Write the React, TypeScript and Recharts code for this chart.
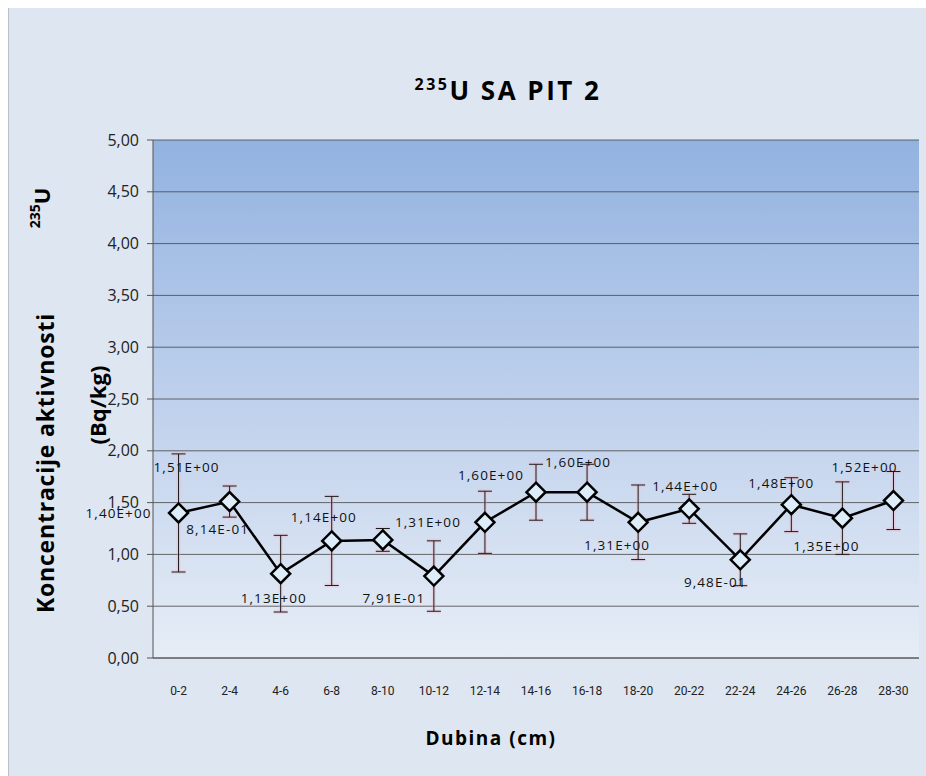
import { ComposedChart, Line, XAxis, YAxis, CartesianGrid, ErrorBar, LabelList } from 'recharts';

const CATEGORIES = ['0-2', '2-4', '4-6', '6-8', '8-10', '10-12', '12-14', '14-16', '16-18', '18-20', '20-22', '22-24', '24-26', '26-28', '28-30'];
const VALUES = [1.40, 1.51, 0.814, 1.13, 1.14, 0.791, 1.31, 1.60, 1.60, 1.31, 1.44, 0.948, 1.48, 1.35, 1.52];
const ERRORS = [0.57, 0.15, 0.37, 0.43, 0.11, 0.34, 0.30, 0.27, 0.27, 0.36, 0.14, 0.25, 0.26, 0.35, 0.28];
const Y_TICKS = [0, 0.5, 1, 1.5, 2, 2.5, 3, 3.5, 4, 4.5, 5];

const data = CATEGORIES.map((c, i) => ({ depth: c, value: VALUES[i], err: ERRORS[i] }));

// where each value label sits relative to its point (the original is a bit scattered)
const LABEL_OFFSETS = [
  [-60, 0], [-43, -35], [-63, -45], [-58, 57], [-59, -23], [-40, 22], [-57, 0], [-45, -17],
  [-9, -30], [-21, 23], [-4, -23], [-25, 22], [-10, -22], [-16, 28], [-29, -34],
];

const fmtTick = (v: number) => v.toFixed(2).replace('.', ',');
const fmtSci = (v: number) => {
  const [m, e] = v.toExponential(2).split('e');
  const n = parseInt(e, 10);
  return `${m.replace('.', ',')}E${n < 0 ? '-' : '+'}${String(Math.abs(n)).padStart(2, '0')}`;
};

const Diamond = (props: any) => {
  const { cx, cy } = props;
  if (cx == null || cy == null) return null;
  const r = 9.5;
  return (
    <polygon
      points={`${cx},${cy - r} ${cx + r},${cy} ${cx},${cy + r} ${cx - r},${cy}`}
      fill="#ddeefa"
      stroke="#000"
      strokeWidth={2.5}
    />
  );
};

const ValueLabel = (props: any) => {
  const { x, y, value, index } = props;
  const [dx, dy] = LABEL_OFFSETS[index] || [0, -20];
  return (
    <text
      x={x + dx}
      y={y + dy}
      textAnchor="middle"
      dominantBaseline="central"
      fontSize={13.5}
      letterSpacing={1.1}
      fontFamily="'Open Sans', sans-serif"
      fill="#111"
    >
      {fmtSci(value)}
    </text>
  );
};

export default function App() {
  return (
    <div
      style={{
        position: 'absolute',
        top: 8,
        left: 8,
        width: 918,
        height: 768,
        background: '#dee6f1',
        borderLeft: '1px solid #b9c0c8',
        boxSizing: 'border-box',
        overflow: 'hidden',
      }}
    >
      <svg width={0} height={0} style={{ position: 'absolute' }}>
        <defs>
          <linearGradient id="plotGrad" x1="0" y1="0" x2="0" y2="1">
            <stop offset="0%" stopColor="#92b2e0" />
            <stop offset="45%" stopColor="#bacdeb" />
            <stop offset="100%" stopColor="#e6edf6" />
          </linearGradient>
        </defs>
      </svg>
      <ComposedChart
        width={918}
        height={768}
        data={data}
        margin={{ top: 132, right: 8, bottom: 78, left: 84 }}
      >
        <CartesianGrid
          vertical={false}
          stroke="#4d4d4d"
          strokeOpacity={0.85}
          fill="url(#plotGrad)"
          fillOpacity={1}
        />
        <XAxis
          dataKey="depth"
          scale="band"
          height={40}
          tickLine={false}
          axisLine={{ stroke: '#555' }}
          tickMargin={22}
          interval={0}
          tick={{ fontSize: 12, fill: '#222', fontFamily: "'Liberation Sans Narrow', 'Roboto', sans-serif" }}
        />
        <YAxis
          width={60}
          domain={[0, 5]}
          ticks={Y_TICKS}
          tickFormatter={fmtTick}
          axisLine={{ stroke: '#555' }}
          tickLine={{ stroke: '#555' }}
          tickSize={6}
          tickMargin={8}
          tick={{ fontSize: 16, fill: '#222', fontFamily: "'Open Sans', sans-serif" }}
        />
        <Line
          dataKey="value"
          stroke="#000"
          strokeWidth={2.5}
          dot={<Diamond />}
          activeDot={false}
          isAnimationActive={false}
        >
          <ErrorBar dataKey="err" width={7} stroke="#f6a8b6" strokeWidth={4} strokeOpacity={0.3} direction="y" />
          <ErrorBar dataKey="err" width={7} stroke="#1a1a1a" strokeWidth={1} direction="y" />
          <LabelList dataKey="value" content={<ValueLabel />} />
        </Line>
      </ComposedChart>
      <svg
        width={918}
        height={768}
        style={{ position: 'absolute', top: 0, left: 0, pointerEvents: 'none' }}
        fontFamily="'Open Sans', sans-serif"
        fontWeight={700}
        fill="#000"
      >
        <text x={499} y={92} textAnchor="middle" fontSize={26} letterSpacing={2.5}>
          <tspan fontSize={16} dy={-10}>235</tspan>
          <tspan dy={10}>U SA PIT 2</tspan>
        </text>
        <text transform="translate(32,200) rotate(-90)" textAnchor="middle" dominantBaseline="central" fontSize={22}>
          <tspan fontSize={14} dy={-7}>235</tspan>
          <tspan dy={7}>U</tspan>
        </text>
        <text transform="translate(36,455) rotate(-90)" textAnchor="middle" dominantBaseline="central" fontSize={23} letterSpacing={0.8}>
          Koncentracije aktivnosti
        </text>
        <text transform="translate(88,397) rotate(-90)" textAnchor="middle" dominantBaseline="central" fontSize={22}>
          (Bq/kg)
        </text>
        <text x={482} y={730} textAnchor="middle" dominantBaseline="central" fontSize={19} letterSpacing={1.5}>
          Dubina (cm)
        </text>
      </svg>
    </div>
  );
}
